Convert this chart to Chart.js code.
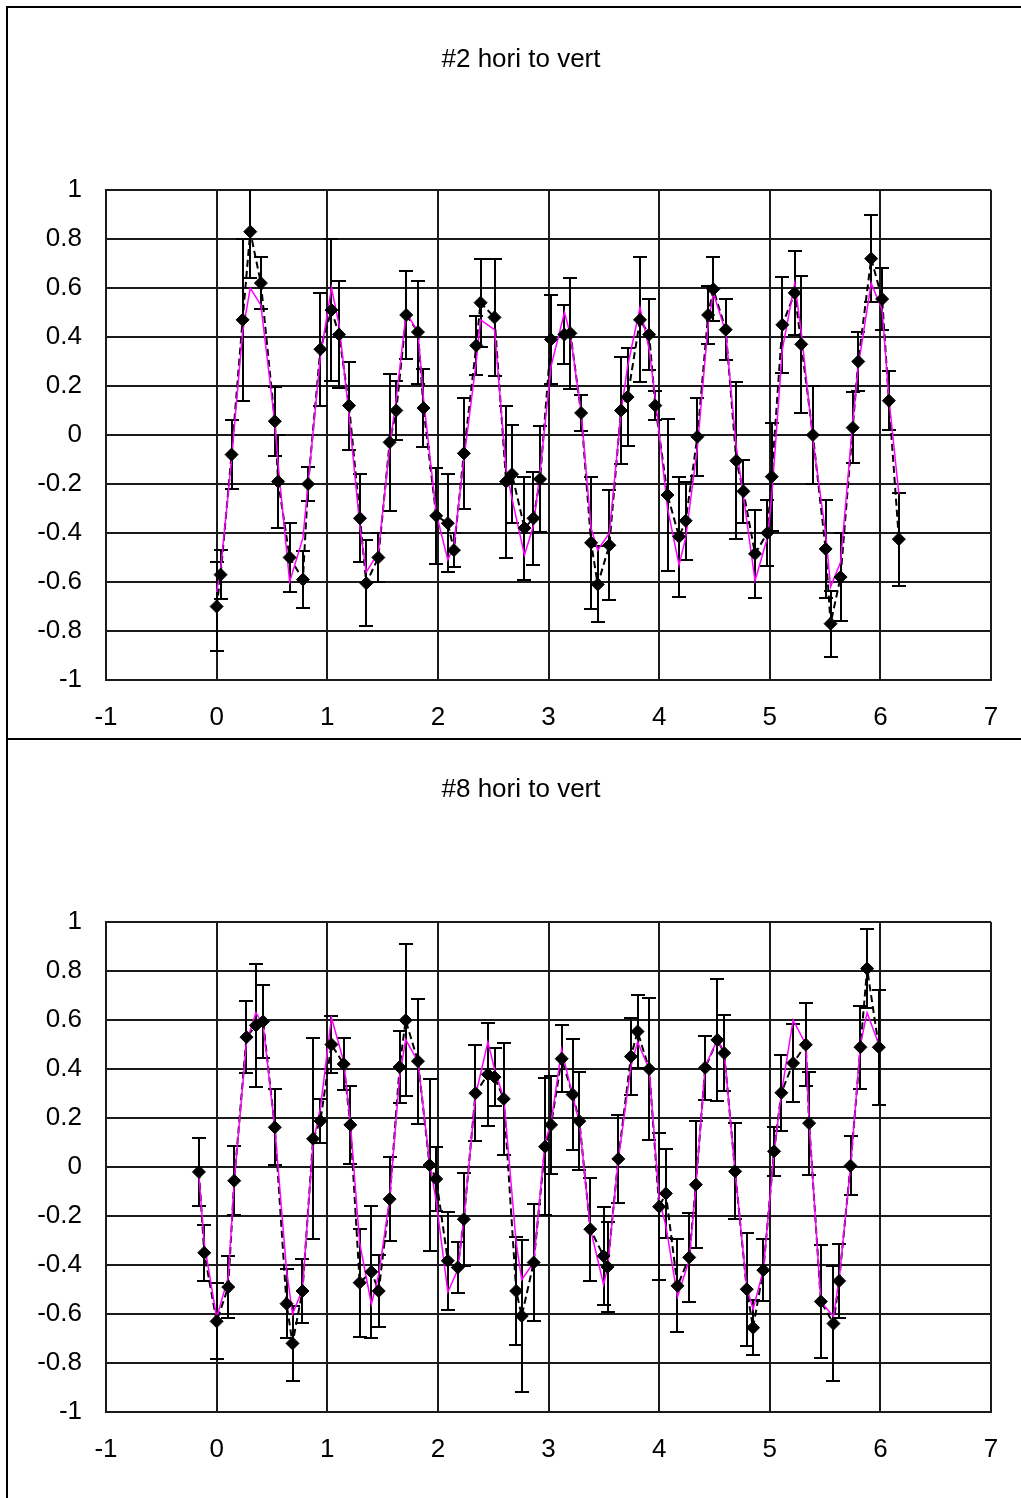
<!DOCTYPE html>
<html><head><meta charset="utf-8">
<script src="https://cdn.jsdelivr.net/npm/chart.js@4/dist/chart.umd.min.js"></script>
<style>
html,body{margin:0;padding:0;background:#fff;overflow:hidden;}
body{width:1021px;height:1498px;position:relative;font-family:'Liberation Sans',Arial,sans-serif;}
.box{position:absolute;left:6px;width:1100px;border-left:2px solid #000;border-top:2px solid #000;}
#box1{top:6px;height:732px;}
#box2{top:738px;height:800px;}
.title{position:absolute;left:0;width:1042px;text-align:center;font-size:26px;line-height:26px;color:#000;white-space:nowrap;}
canvas{position:absolute;left:0;}
</style></head><body>
<div class="box" id="box1"></div><div class="box" id="box2"></div>
<canvas id="c1" width="1021" height="732" style="top:7px"></canvas>
<canvas id="c2" width="1021" height="732" style="top:739px"></canvas>
<div class="title" id="t1" style="top:45px"></div>
<div class="title" id="t2" style="top:775px"></div>
<script>
const titleTop = '#2 hori to vert';
const titleBot = '#8 hori to vert';
const xTickValues = [-1,0,1,2,3,4,5,6,7];
const xTickLabels = ['-1','0','1','2','3','4','5','6','7'];
const yTickValues = [-1,-0.8,-0.6,-0.4,-0.2,0,0.2,0.4,0.6,0.8,1];
const yTickLabels = ['-1','-0.8','-0.6','-0.4','-0.2','0','0.2','0.4','0.6','0.8','1'];

const xTop = [0.000,0.036,0.135,0.235,0.304,0.400,0.526,0.556,0.660,0.780,0.827,0.938,1.038,1.107,1.197,1.296,1.353,1.462,1.564,1.624,1.714,1.820,1.870,1.985,2.090,2.145,2.235,2.347,2.386,2.512,2.617,2.670,2.783,2.864,2.924,3.023,3.144,3.198,3.295,3.385,3.445,3.550,3.655,3.715,3.827,3.910,3.965,4.076,4.180,4.240,4.346,4.443,4.490,4.602,4.698,4.762,4.867,4.978,5.018,5.114,5.226,5.285,5.390,5.505,5.550,5.640,5.750,5.800,5.917,6.016,6.077,6.167];
const yTop = [-0.70,-0.57,-0.08,0.47,0.83,0.62, 0.056,-0.19,-0.50,-0.59,-0.20, 0.35,0.51,0.41,0.12,-0.34, -0.605,-0.50,-0.03,0.10,0.49, 0.42,0.11,-0.33,-0.36,-0.47, -0.075,0.365,0.54,0.48,-0.19, -0.16,-0.38,-0.34,-0.18,0.39, 0.41,0.415,0.09,-0.44,-0.61, -0.45,0.10,0.155,0.47,0.41, 0.12,-0.245,-0.415,-0.35,-0.007, 0.49,0.595,0.43,-0.105,-0.23, -0.485,-0.40,-0.17,0.45,0.58, 0.37,0.00,-0.465,-0.77,-0.58, 0.03,0.30,0.72,0.555,0.14, -0.425];
const errTop = [0.18,0.10,0.14,0.33,0.19,0.105, 0.14,0.19,0.14,0.115,0.07, 0.23,0.29,0.22,0.18,0.18, 0.175,0.10,0.28,0.12,0.18, 0.21,0.16,0.195,0.20,0.07, 0.225,0.12,0.18,0.24,0.31, 0.20,0.21,0.19,0.215,0.18, 0.12,0.226,0.073,0.27,0.155, 0.225,0.22,0.20,0.255,0.146, 0.06,0.31,0.245,0.16,0.16, 0.12,0.13,0.125,0.32,0.13, 0.18,0.135,0.22,0.195,0.17, 0.28,0.20,0.20,0.135,0.178, 0.145,0.12,0.177,0.127,0.12, 0.19];
const modelTop = [-0.64,-0.55,-0.10,0.42,0.60,0.53, 0.05,-0.12,-0.60,-0.42,-0.20, 0.32,0.60,0.45,0.08,-0.38, -0.56,-0.48,-0.05,0.15,0.50, 0.42,0.15,-0.32,-0.51,-0.45, -0.10,0.30,0.47,0.43,-0.14, -0.26,-0.49,-0.37,-0.15,0.28, 0.50,0.41,0.09,-0.38,-0.47, -0.40,0.09,0.28,0.52,0.35, 0.15,-0.30,-0.53,-0.42,-0.05, 0.45,0.58,0.42,-0.05,-0.25, -0.595,-0.42,-0.25,0.35,0.62, 0.42,-0.02,-0.40,-0.62,-0.52, 0.05,0.28,0.62,0.51,0.15, -0.24];

const xBot = [-0.160,-0.112,0.000,0.105,0.159,0.270,0.355,0.420,0.526,0.632,0.686,0.776,0.872,0.938,1.038,1.149,1.209,1.293,1.399,1.465,1.564,1.654,1.709,1.820,1.925,1.985,2.090,2.180,2.235,2.340,2.452,2.512,2.596,2.708,2.758,2.866,2.969,3.023,3.119,3.218,3.279,3.378,3.498,3.534,3.631,3.745,3.805,3.910,4.000,4.061,4.166,4.272,4.332,4.416,4.527,4.588,4.687,4.792,4.849,4.942,5.039,5.105,5.211,5.326,5.356,5.462,5.576,5.627,5.730,5.820,5.880,5.986];
const yBot = [-0.02,-0.35,-0.63,-0.49,-0.056, 0.53,0.578,0.594,0.162,-0.558, -0.72,-0.506,0.115,0.188,0.50, 0.42,0.172,-0.472,-0.428,-0.506, -0.131,0.408,0.599,0.432,0.008, -0.049,-0.383,-0.41,-0.213,0.301, 0.378,0.367,0.278,-0.506,-0.608, -0.39,0.083,0.172,0.442,0.296, 0.187,-0.254,-0.363,-0.408,0.033, 0.451,0.553,0.40,-0.162,-0.108, -0.485,-0.369,-0.072,0.405,0.519, 0.465,-0.018,-0.499,-0.656,-0.421, 0.064,0.303,0.424,0.499,0.179, -0.549,-0.639,-0.465,0.005,0.489, 0.81,0.489];
const errBot = [0.138,0.115,0.155,0.125,0.14, 0.148,0.25,0.15,0.155,0.14, 0.153,0.13,0.41,0.09,0.117, 0.107,0.16,0.22,0.27,0.147, 0.17,0.147,0.31,0.255,0.35, 0.13,0.2,0.105,0.19,0.195, 0.21,0.12,0.23,0.22,0.31, 0.24,0.28,0.2,0.136,0.228, 0.2,0.21,0.2,0.185,0.18, 0.158,0.15,0.29,0.3,0.18, 0.19,0.18,0.26,0.13,0.25, 0.155,0.196,0.23,0.112,0.127, 0.1,0.155,0.16,0.17,0.21, 0.23,0.235,0.15,0.12,0.17, 0.162,0.235];
const modelBot = [-0.035,-0.31,-0.615,-0.45,-0.06, 0.51,0.63,0.58,0.16,-0.42, -0.60,-0.50,0.10,0.24,0.61, 0.43,0.18,-0.31,-0.56,-0.44, -0.13,0.37,0.52,0.43,0.02, -0.14,-0.51,-0.42,-0.21,0.29, 0.51,0.40,0.28,-0.31,-0.46, -0.39,0.10,0.18,0.48,0.29, 0.18,-0.25,-0.48,-0.41,0.03, 0.41,0.51,0.40,-0.13,-0.24, -0.53,-0.38,-0.08,0.41,0.52, 0.47,-0.02,-0.49,-0.58,-0.42, 0.06,0.30,0.60,0.50,0.18, -0.55,-0.61,-0.46,0.0,0.50, 0.63,0.50];

const FONT = "'Liberation Sans', Arial, sans-serif";

const errorBarPlugin = {
  id: 'errorBars',
  beforeDatasetsDraw(chart, args, opts) {
    const ds = chart.data.datasets[opts.datasetIndex];
    const errs = opts.errors;
    const sx = chart.scales.x, sy = chart.scales.y;
    const ctx = chart.ctx, a = chart.chartArea;
    ctx.save();
    ctx.beginPath();
    ctx.rect(a.left, a.top, a.right - a.left, a.bottom - a.top);
    ctx.clip();
    ctx.strokeStyle = '#000';
    ctx.lineWidth = 2;
    ds.data.forEach((p, i) => {
      const px = Math.round(sx.getPixelForValue(p.x));
      const hi = Math.round(sy.getPixelForValue(p.y + errs[i]));
      const lo = Math.round(sy.getPixelForValue(p.y - errs[i]));
      ctx.beginPath();
      ctx.moveTo(px, hi); ctx.lineTo(px, lo);
      ctx.moveTo(px - 7, hi); ctx.lineTo(px + 7, hi);
      ctx.moveTo(px - 7, lo); ctx.lineTo(px + 7, lo);
      ctx.stroke();
    });
    ctx.restore();
  }
};

function pts(xs, ys) { return xs.map((x, i) => ({ x: x, y: ys[i] })); }

function makeChart(id, xs, ys, errs, model) {
  return new Chart(document.getElementById(id), {
    type: 'scatter',
    data: {
      datasets: [
        { label: 'data', data: pts(xs, ys), showLine: false, pointStyle: 'rectRot', pointRadius: 6.5, pointHoverRadius: 6.5,
          backgroundColor: '#000', borderColor: '#000', borderWidth: 1 },
        { label: 'model', data: pts(xs, model), showLine: true, pointRadius: 0, borderColor: '#ff00ff', borderWidth: 1.5, tension: 0 },
        { label: 'data line', data: pts(xs, ys), showLine: true, pointRadius: 0, borderColor: '#000', borderWidth: 2, borderDash: [7, 4], tension: 0 }
      ]
    },
    options: {
      responsive: false,
      animation: false,
      events: [],
      layout: { padding: { top: 183, right: 30, bottom: 0, left: 0 } },
      plugins: {
        legend: { display: false },
        title: { display: false },
        tooltip: { enabled: false },
        errorBars: { datasetIndex: 0, errors: errs }
      },
      scales: {
        x: {
          type: 'linear', min: -1, max: 7,
          afterBuildTicks: s => { s.ticks = xTickValues.map(v => ({ value: v })); },
          afterFit: s => { s.height = 59; },
          ticks: { color: '#000', font: { family: FONT, size: 26 }, padding: 22, maxRotation: 0, autoSkip: false,
            callback: (v) => xTickLabels[xTickValues.indexOf(v)] },
          grid: { color: '#1a1a1a', lineWidth: 2, drawTicks: false },
          border: { color: '#1a1a1a', width: 2 }
        },
        y: {
          type: 'linear', min: -1, max: 1,
          afterBuildTicks: s => { s.ticks = yTickValues.map(v => ({ value: v })); },
          afterFit: s => { s.width = 106; },
          ticks: { color: '#000', font: { family: FONT, size: 26 }, padding: 24, autoSkip: false,
            callback: (v, i) => yTickLabels[i] },
          grid: { color: '#1a1a1a', lineWidth: 2, drawTicks: false },
          border: { color: '#1a1a1a', width: 2 }
        }
      }
    },
    plugins: [errorBarPlugin]
  });
}

document.getElementById('t1').textContent = titleTop;
document.getElementById('t2').textContent = titleBot;
makeChart('c1', xTop, yTop, errTop, modelTop);
makeChart('c2', xBot, yBot, errBot, modelBot);
</script>
</body></html>
